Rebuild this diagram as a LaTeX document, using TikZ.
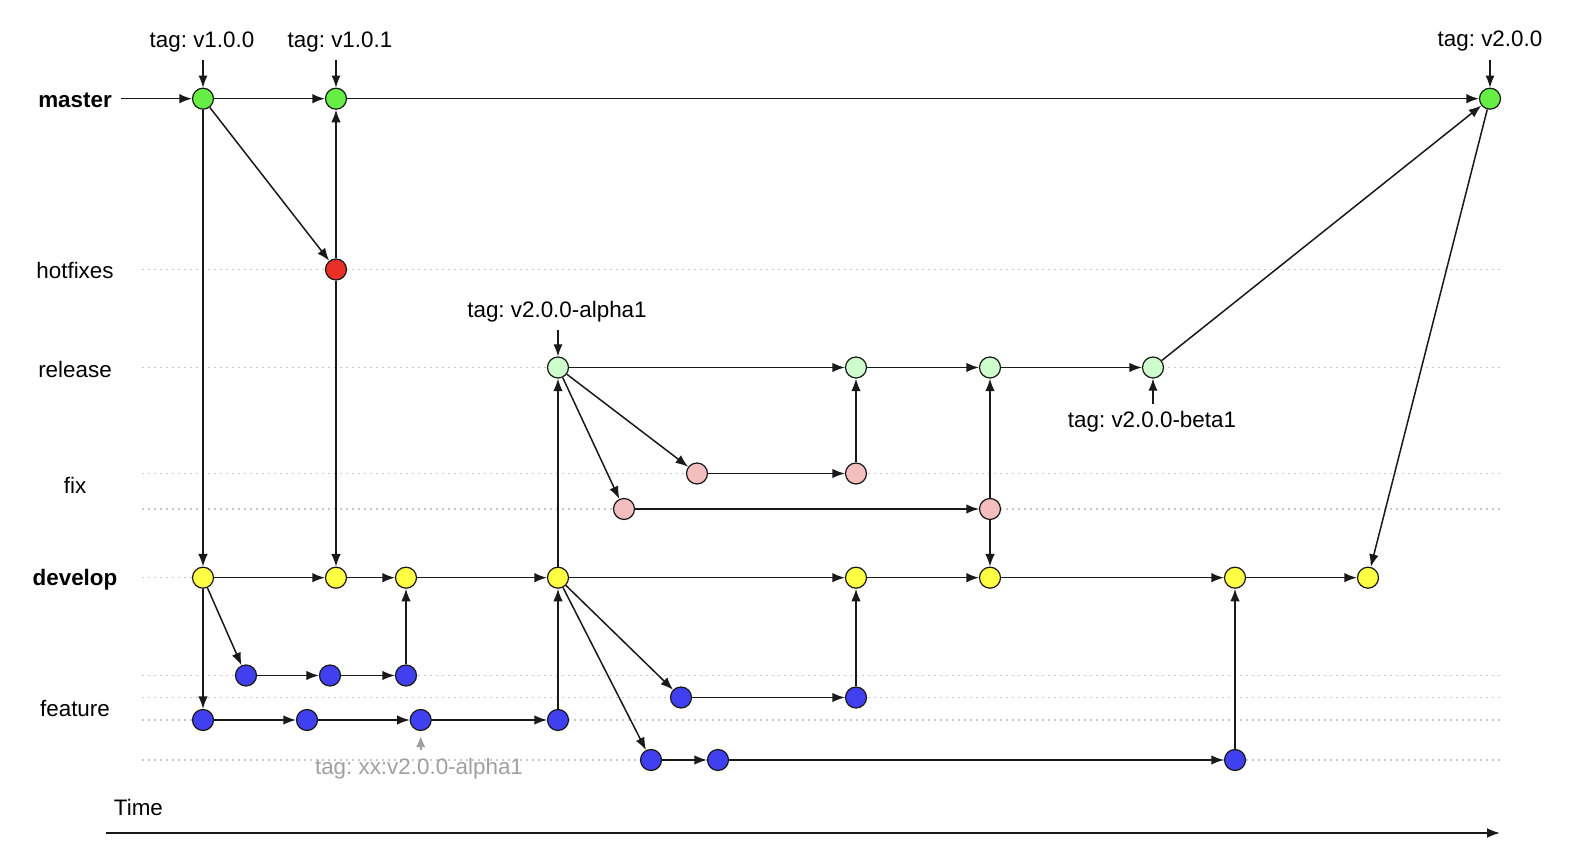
\documentclass[tikz,border=0pt]{standalone}
\usepackage{fontspec}
\setmainfont{Liberation Sans}
\usetikzlibrary{arrows.meta}
\frenchspacing
\definecolor{mgreen}{RGB}{102,238,68}
\definecolor{hred}{RGB}{232,48,40}
\definecolor{rgreen}{RGB}{204,255,204}
\definecolor{fpink}{RGB}{244,190,190}
\definecolor{dyellow}{RGB}{255,255,68}
\definecolor{fblue}{RGB}{64,64,240}
\definecolor{edgecol}{RGB}{25,25,25}
\definecolor{guidecol}{RGB}{200,200,200}
\definecolor{xxgray}{RGB}{160,160,160}
\begin{document}
\begin{tikzpicture}[x=0.5pt,y=-0.5pt,
  commit/.style={circle, draw=edgecol, line width=0.6pt, minimum size=10.5pt, inner sep=0pt},
  mc/.style={commit, fill=mgreen},
  hc/.style={commit, fill=hred},
  rc/.style={commit, fill=rgreen},
  xc/.style={commit, fill=fpink},
  dc/.style={commit, fill=dyellow},
  fc/.style={commit, fill=fblue},
  edge/.style={line width=0.75pt, draw=edgecol, -{Latex[length=6.3pt,width=4.8pt]}},
  tagarrow/.style={line width=0.55pt, draw=edgecol, -{Latex[length=6pt,width=4.5pt]}},
  guide/.style={guidecol, line width=0.6pt, dash pattern=on 0.8pt off 2.2pt},
  lbl/.style={font=\fontsize{11.2}{13}\selectfont, anchor=base, inner sep=3.75pt},
  blbl/.style={lbl, font=\fontsize{11.2}{13}\selectfont\bfseries},
  axis/.style={line width=1pt, draw=edgecol, -{Latex[length=6.5pt,width=5pt]}}
]
\useasboundingbox (0,0) rectangle (1592,854);

% guide lines
\foreach \y in {269.5,367.5,473.5,509,675.5,697.5,720,760}
  \draw[guide] (142,\y) -- (1500,\y);
\draw[guide] (142,577.7) -- (1368,577.7);

% branch labels
\node[blbl] (lmaster) at (75,107.3) {master};
\node[lbl] (lhot) at (75,278.3) {hotfixes};
\node[lbl] (lrel) at (75,377.7) {release};
\node[lbl] (lfix) at (75,493.3) {fix};
\node[blbl] (ldev) at (75,586) {develop};
\node[lbl] (lfeat) at (75,716.7) {feature};
\node[lbl] (ltime) at (138.4,816) {Time};

% commits
\node[mc] (m1) at (203,98.7) {};
\node[mc] (m2) at (336,98.7) {};
\node[mc] (m3) at (1490,98.7) {};
\node[hc] (h1) at (336,269.5) {};
\node[rc] (r1) at (558,367.5) {};
\node[rc] (r2) at (856,367.5) {};
\node[rc] (r3) at (990,367.5) {};
\node[rc] (r4) at (1153,367.5) {};
\node[xc] (x1) at (697,473.5) {};
\node[xc] (x2) at (856,473.5) {};
\node[xc] (y1) at (624,509) {};
\node[xc] (y2) at (990,509) {};
\node[dc] (d1) at (203,577.7) {};
\node[dc] (d2) at (336,577.7) {};
\node[dc] (d3) at (406,577.7) {};
\node[dc] (d4) at (558,577.7) {};
\node[dc] (d5) at (856,577.7) {};
\node[dc] (d6) at (990,577.7) {};
\node[dc] (d7) at (1235,577.7) {};
\node[dc] (d8) at (1368,577.7) {};
\node[fc] (fa1) at (246,675.5) {};
\node[fc] (fa2) at (330,675.5) {};
\node[fc] (fa3) at (406,675.5) {};
\node[fc] (fb1) at (681,697.5) {};
\node[fc] (fb2) at (856,697.5) {};
\node[fc] (fc1) at (203,720) {};
\node[fc] (fc2) at (307,720) {};
\node[fc] (fc3) at (420.7,720) {};
\node[fc] (fc4) at (558,720) {};
\node[fc] (fd1) at (651,760) {};
\node[fc] (fd2) at (718,760) {};
\node[fc] (fd3) at (1235,760) {};

% tags
\node[lbl] (t1) at (202,47.7) {tag: v1.0.0};
\node[lbl] (t2) at (340,47.7) {tag: v1.0.1};
\node[lbl] (t3) at (1490,47) {tag: v2.0.0};
\node[lbl] (t4) at (557,317.5) {tag: v2.0.0-alpha1};
\node[lbl] (t5) at (1152,428) {tag: v2.0.0-beta1};
\node[lbl, text=xxgray] (t6) at (419,774.5) {tag: xx:v2.0.0-alpha1};

\draw[tagarrow] (m1 |- t1.south) -- (m1);
\draw[tagarrow] (m2 |- t2.south) -- (m2);
\draw[tagarrow] (m3 |- t3.south) -- (m3);
\draw[tagarrow] (r1 |- t4.south) -- (r1);
\draw[tagarrow] (r4 |- t5.north) -- (r4);
\draw[line width=0.9pt, draw=xxgray, -{Latex[length=5.5pt,width=4.8pt]}, shorten >=2.5pt] (fc3 |- t6.north) -- (fc3);

% master entry
\coordinate (mstart) at (121,98.7);
\draw[edge] (mstart) -- (m1);

% connectors
\foreach \a/\b in {m1/m2, m2/m3, m1/h1, h1/m2, m1/d1, h1/d2,
  d1/d2, d2/d3, d3/d4, d4/d5, d5/d6, d6/d7, d7/d8,
  d1/fa1, fa1/fa2, fa2/fa3, fa3/d3,
  d1/fc1, fc1/fc2, fc2/fc3, fc3/fc4, fc4/d4,
  d4/r1, r1/r2, r2/r3, r3/r4, r4/m3,
  r1/x1, x1/x2, x2/r2,
  r1/y1, y1/y2, y2/r3, y2/d6,
  d4/fb1, fb1/fb2, fb2/d5,
  d4/fd1, fd1/fd2, fd2/fd3, fd3/d7,
  m3/d8}
  \draw[edge] (\a) -- (\b);

% time axis
\coordinate (ta) at (106,833);
\coordinate (tb) at (1500,833);
\draw[axis] (ta) -- (tb);
\end{tikzpicture}
\end{document}
